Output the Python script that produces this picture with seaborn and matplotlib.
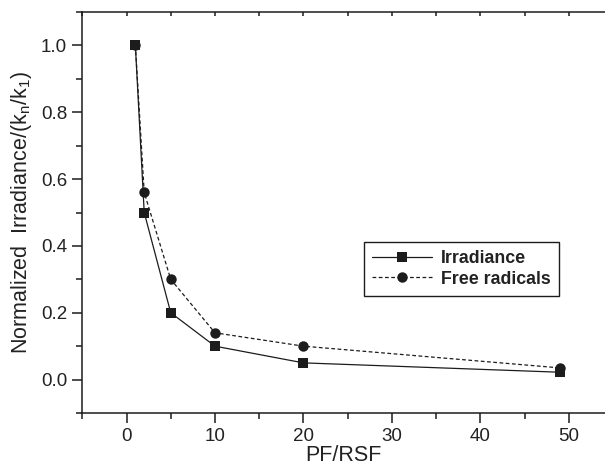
import matplotlib
matplotlib.use("Agg")
import matplotlib.pyplot as plt
import seaborn as sns
import pandas as pd
from matplotlib.ticker import MultipleLocator

pf_rsf = [1, 2, 5, 10, 20, 49]
irradiance = [1.0, 0.5, 0.2, 0.1, 0.05, 0.022]
free_radicals = [1.0, 0.56, 0.3, 0.14, 0.10, 0.035]
series_names = ["Irradiance", "Free radicals"]

sns.set_theme(style="ticks")
plt.rcParams['font.family'] = ['Liberation Sans', 'DejaVu Sans']
plt.rcParams['mathtext.fontset'] = 'custom'
plt.rcParams['mathtext.rm'] = 'Liberation Sans'
plt.rcParams['mathtext.it'] = 'Liberation Sans'

df = pd.DataFrame({
    "x": pf_rsf * 2,
    "y": irradiance + free_radicals,
    "series": [series_names[0]] * len(pf_rsf) + [series_names[1]] * len(pf_rsf),
})

fig = plt.figure(figsize=(6.05, 4.70), dpi=100)
ax = fig.add_axes([82.3 / 605, 1 - 413 / 470, 1 - 82.3 / 605, (413 - 12) / 470])

c = "#1c1c1c"
sns.lineplot(data=df, x="x", y="y", style="series", ax=ax, color=c,
             markers={series_names[0]: "s", series_names[1]: "o"},
             dashes={series_names[0]: "", series_names[1]: (3, 2)},
             markersize=7.5, markeredgewidth=0, linewidth=0.9, legend=True)

ax.set_xlim(-5, 54.1)
ax.set_ylim(-0.1, 1.1)
ax.xaxis.set_major_locator(MultipleLocator(10))
ax.xaxis.set_minor_locator(MultipleLocator(5))
ax.yaxis.set_major_locator(MultipleLocator(0.2))
ax.yaxis.set_minor_locator(MultipleLocator(0.1))
ax.set_yticks([0.0, 0.2, 0.4, 0.6, 0.8, 1.0])
ax.set_yticklabels(["0.0", "0.2", "0.4", "0.6", "0.8", "1.0"])
ax.set_xticks([0, 10, 20, 30, 40, 50])

for s in ["left", "bottom", "top"]:
    ax.spines[s].set_linewidth(1.1)
    ax.spines[s].set_color(c)
ax.spines["right"].set_visible(False)

ax.tick_params(axis="both", which="major", direction="out", length=7, width=1.1,
               labelsize=13.5, colors=c, labelcolor="#222222", pad=4)
ax.tick_params(axis="both", which="minor", direction="out", length=4.5, width=1.1, colors=c)
ax.tick_params(axis="x", which="both", top=True)
# top ticks point inward
for t in ax.xaxis.get_major_ticks() + ax.xaxis.get_minor_ticks():
    t.tick2line.set_marker(3)  # TICKDOWN
    t.tick2line.set_markersize(3)

ax.set_xlabel("PF/RSF", fontsize=15.5, color="#222222", labelpad=0)
ax.set_ylabel("Normalized  Irradiance/(k$_\\mathregular{n}$/k$_\\mathregular{1}$)",
              fontsize=15.5, color="#222222", labelpad=5)

handles, labels = ax.get_legend_handles_labels()
leg = ax.legend(handles=handles, labels=labels, loc="upper right",
                bbox_to_anchor=(559 / 605, 1 - 242 / 470), bbox_transform=fig.transFigure,
                frameon=True, fancybox=False, edgecolor=c, framealpha=1,
                prop={"weight": "bold", "size": 12.8}, handlelength=3.4,
                handletextpad=0.5, borderpad=0.45, labelspacing=0.2, borderaxespad=0)
leg.get_frame().set_linewidth(1.0)
for t in leg.get_texts():
    t.set_color("#222222")

fig.savefig("out.png", dpi=100)
